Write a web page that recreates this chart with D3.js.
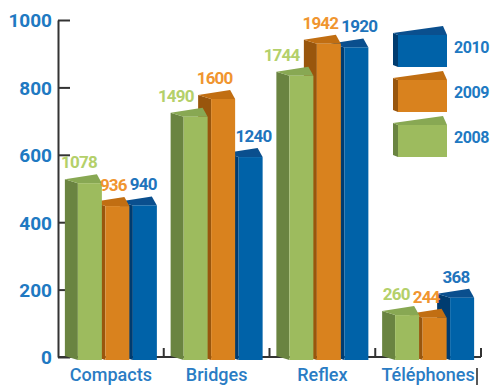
<!DOCTYPE html>
<html>
<head>
<meta charset="utf-8">
<script src="https://cdn.jsdelivr.net/npm/d3@7"></script>
<style>
  body { margin: 0; background: #ffffff; }
  text { font-family: Roboto, "Liberation Sans", sans-serif; }
</style>
</head>
<body>
<svg id="chart" width="492" height="385"></svg>
<script>
// Unit sales per product family, three years
const categories = ["Compacts", "Bridges", "Reflex", "Téléphones"];
const years = ["2008", "2009", "2010"];
const values2008 = [1078, 1490, 1744, 260];
const values2009 = [936, 1600, 1942, 244];
const values2010 = [940, 1240, 1920, 368];
const axisTicks = [0, 200, 400, 600, 800, 1000];
const legendOrder = ["2010", "2009", "2008"];

const seriesValues = { "2008": values2008, "2009": values2009, "2010": values2010 };

const palette = {
  "2008": { front: "#9dbb5e", side: "#6a8441", top: "#88a853", label: "#b4d06a" },
  "2009": { front: "#d9821e", side: "#99560d", top: "#c16e12", label: "#f0952f" },
  "2010": { front: "#0062a8", side: "#003c70", top: "#0a4f8e", label: "#1f74bc" }
};
const axisBlue = "#2079c2";
const axisInk = "#333333";

const svg = d3.select("#chart");
const plot = { left: 58, right: 481, top: 20, bottom: 357 };

// Category bands along the bottom axis
const x = d3.scaleBand().domain(categories).range([plot.left, plot.right]);

// Printed axis runs 0–1000; bars are measured on a 0–2090 range over the same height
const yAxisScale = d3.scaleLinear().domain([0, 1000]).range([plot.bottom, plot.top]);
const yValue = d3.scaleLinear().domain([0, 2090]).range([plot.bottom, plot.top]);

// Bars inside a band (front faces only; the depth sticks out to the left)
const xs = d3.scaleBand().domain(years)
  .range([x.bandwidth() / 2 - 33, x.bandwidth() / 2 + 46])
  .paddingInner(0.127);

// Pseudo-3D box: front face, left side face and top face
const barDepth = { dxL: 13, dyL: 4, dxR: 5, dyR: 9 };
const legendDepth = { dxL: 5, dyL: 2, dxR: 4, dyR: 9 };

function drawBox(g, x0, w, yTop, yBase, d, col) {
  const line = d3.line();
  g.append("path")
    .attr("d", line([[x0, yTop], [x0 - d.dxL, yTop - d.dyL], [x0 - d.dxL, yBase - d.dyL], [x0, yBase]]) + "Z")
    .attr("fill", col.side);
  g.append("path")
    .attr("d", line([[x0, yTop], [x0 + w, yTop], [x0 + w - d.dxR, yTop - d.dyR], [x0 - d.dxL, yTop - d.dyL]]) + "Z")
    .attr("fill", col.top);
  g.append("rect")
    .attr("x", x0).attr("y", yTop)
    .attr("width", w).attr("height", yBase - yTop)
    .attr("fill", col.front);
}

// Y axis: ticks pointing into the plot, labels on the left
const yAxis = d3.axisLeft(yAxisScale)
  .tickValues(axisTicks)
  .tickSizeInner(-12)
  .tickSizeOuter(0)
  .tickPadding(6)
  .tickFormat(d3.format("d"));

const yG = svg.append("g")
  .attr("transform", `translate(${plot.left},0)`)
  .call(yAxis);
yG.select(".domain").attr("stroke", axisInk).attr("stroke-width", 2);
yG.selectAll(".tick line").attr("stroke", axisInk).attr("stroke-width", 2);
yG.selectAll(".tick text")
  .attr("fill", axisBlue)
  .style("font-size", "19px")
  .style("font-weight", "700")
  .attr("dy", "0.36em");

// X axis baseline with separators at the right edge of each band
svg.append("line")
  .attr("x1", plot.left).attr("x2", plot.right)
  .attr("y1", plot.bottom).attr("y2", plot.bottom)
  .attr("stroke", axisInk).attr("stroke-width", 2);

svg.append("g").selectAll("line")
  .data(categories)
  .join("line")
  .attr("x1", d => x(d) + x.bandwidth())
  .attr("x2", d => x(d) + x.bandwidth())
  .attr("y1", plot.bottom)
  .attr("y2", plot.bottom - 9)
  .attr("stroke", axisInk).attr("stroke-width", 2);

// Bars: draw right to left inside each group so the left bar sits in front
const barsG = svg.append("g");
const baseY = plot.bottom + 3;
categories.forEach((c, i) => {
  years.slice().reverse().forEach(yr => {
    const v = seriesValues[yr][i];
    const x0 = x(c) + xs(yr);
    drawBox(barsG, x0, xs.bandwidth(), yValue(v), baseY, barDepth, palette[yr]);
  });
});

// Value labels: laid out as a row above each group
const labelsG = svg.append("g");
categories.forEach((c, i) => {
  const texts = years.map(yr => {
    const v = seriesValues[yr][i];
    return labelsG.append("text")
      .text(v)
      .attr("y", yValue(v) - 15)
      .attr("fill", palette[yr].label)
      .style("font-size", "17px")
      .style("font-weight", "700")
      .style("letter-spacing", "-0.8px");
  });
  const gap = 3;
  const widths = texts.map(t => t.node().getComputedTextLength());
  const total = d3.sum(widths) + gap * (texts.length - 1);
  let cursor = x(c) + x.bandwidth() / 2 - 2 - total / 2;
  texts.forEach((t, k) => {
    t.attr("x", cursor);
    cursor += widths[k] + gap;
  });
});

// Category names
svg.append("g").selectAll("text")
  .data(categories)
  .join("text")
  .attr("x", d => x(d) + x.bandwidth() / 2)
  .attr("y", 381)
  .attr("text-anchor", "middle")
  .attr("fill", "#2a7cc4")
  .style("font-size", "18px")
  .style("font-weight", "500")
  .text(d => d);

// Small vertical rule after the last category name
const lastRight = x(categories[categories.length - 1]) + x.bandwidth();
svg.append("line")
  .attr("x1", lastRight - 4).attr("x2", lastRight - 4)
  .attr("y1", 368).attr("y2", 385)
  .attr("stroke", "#222").attr("stroke-width", 1.5);

// Legend: boxes stacked top-right
const legendY = d3.scaleBand().domain(legendOrder).range([26, 161]);
const legendG = svg.append("g");
legendOrder.forEach(yr => {
  const yTop = legendY(yr) + 9;
  drawBox(legendG, 398, 49, yTop, yTop + 32, legendDepth, palette[yr]);
  legendG.append("text")
    .attr("x", 454)
    .attr("y", yTop + 18)
    .attr("fill", axisBlue)
    .style("font-size", "16px")
    .style("font-weight", "700")
    .style("letter-spacing", "-0.4px")
    .text(yr);
});
</script>
</body>
</html>
